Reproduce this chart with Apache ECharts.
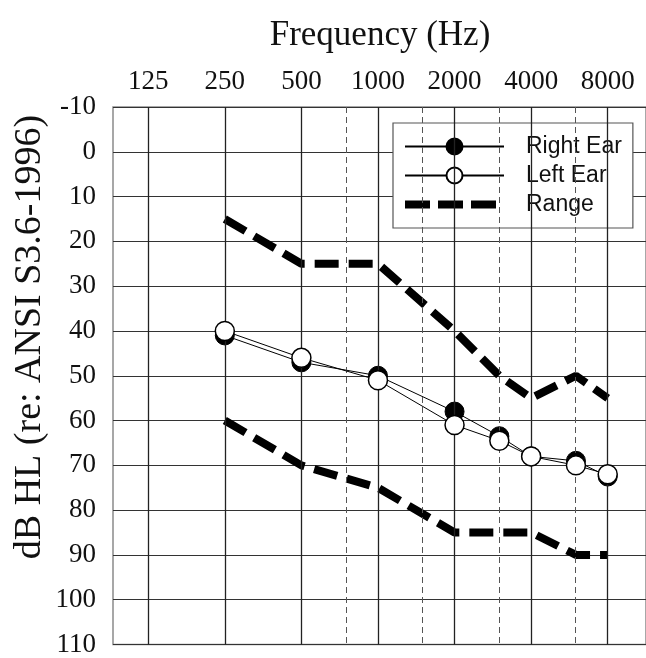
<!DOCTYPE html>
<html>
<head>
<meta charset="utf-8">
<script src="https://cdn.jsdelivr.net/npm/echarts@6/dist/echarts.min.js"></script>
<style>
  html, body { margin: 0; padding: 0; background: #fff; }
  #chart { width: 646px; height: 658px; }
</style>
</head>
<body>
<div id="chart"></div>
<script>
// frequencies (Hz) of the audiogram columns
var octaveFreqs = [125, 250, 500, 1000, 2000, 4000, 8000];
var midFreqs = [750, 1500, 3000, 6000];

// hearing thresholds, dB HL
var earFreqs = [250, 500, 1000, 2000, 3000, 4000, 6000, 8000];
var rightEar = [41, 47, 50, 58, 63.5, 68, 69, 72.5];
var leftEar = [40, 46, 51, 61, 64.5, 68, 70, 72];

// range limits
var rangeFreqs = [250, 500, 1000, 2000, 3000, 4000, 6000, 8000];
var rangeUpper = [15, 25, 25, 40, 50, 55, 50, 55];
var rangeLower = [60, 70, 75, 85, 85, 85, 90, 90];

var dbTicks = [-10, 0, 10, 20, 30, 40, 50, 60, 70, 80, 90, 100, 110];

// position on the axis in octaves above 125 Hz
function oct(f) { return Math.log2(f / 125); }
function pairs(freqs, vals) {
    return freqs.map(function (f, i) { return [oct(f), vals[i]]; });
}

var serif = '"Liberation Serif", "DejaVu Serif", serif';
var sans = '"Liberation Sans", Arial, sans-serif';

var myChart = echarts.init(document.getElementById('chart'), null, { renderer: 'canvas' });

var rangeStyle = { color: '#000', width: 8, type: [24, 10], cap: 'butt' };

myChart.setOption({
    animation: false,
    backgroundColor: '#fff',
    grid: {
        left: 113, top: 107, right: -9, bottom: 11,
        show: true, borderColor: '#8a8a8a', borderWidth: 1.5
    },
    graphic: [
        {
            type: 'text', x: 380, y: 36,
            style: { text: 'Frequency (Hz)', font: '35px ' + serif, fill: '#111',
                     textAlign: 'center', textVerticalAlign: 'middle' }
        },
        {
            type: 'text', x: 30, y: 337, rotation: Math.PI / 2,
            style: { text: 'dB HL (re: ANSI S3.6-1996)', font: '38px ' + serif, fill: '#111',
                     textAlign: 'center', textVerticalAlign: 'middle' }
        }
    ],
    legend: {
        orient: 'vertical',
        left: 393, top: 123,
        padding: [12, 11, 12, 8],
        itemWidth: 99, itemHeight: 20, itemGap: 6,
        backgroundColor: '#fff',
        borderColor: '#555', borderWidth: 1.2,
        data: [
            'Right Ear',
            'Left Ear',
            {
                name: 'Range',
                itemStyle: { color: 'rgba(0,0,0,0)', borderColor: 'rgba(0,0,0,0)', borderWidth: 0 },
                lineStyle: { color: '#000', width: 8, type: [25, 8], cap: 'butt' }
            }
        ],
        textStyle: { fontFamily: sans, fontSize: 23, color: '#111', padding: [0, 0, 0, 17] }
    },
    xAxis: {
        type: 'value',
        position: 'top',
        min: -0.46, max: 6.5,
        axisLine: { show: false },
        axisTick: { show: false },
        splitLine: { show: false },
        axisLabel: {
            customValues: octaveFreqs.map(oct),
            formatter: function (v) { return String(Math.round(125 * Math.pow(2, v))); },
            fontFamily: serif, fontSize: 27, color: '#111', margin: 12
        }
    },
    yAxis: {
        type: 'value',
        inverse: true,
        min: -10, max: 110, interval: 10,
        axisLine: { show: false },
        axisTick: { show: false },
        axisLabel: {
            fontFamily: serif, fontSize: 27, color: '#111', margin: 17,
            formatter: function (v) { return dbTicks.indexOf(v) >= 0 ? String(v) : ''; }
        },
        splitLine: { lineStyle: { color: '#333', width: 1.2 } }
    },
    series: [
        {
            // vertical grid lines
            name: 'grid', type: 'line', data: [], z: 1, silent: true,
            markLine: {
                silent: true, symbol: 'none', animation: false,
                label: { show: false },
                data: octaveFreqs.map(function (f) {
                    return { xAxis: oct(f), lineStyle: { color: '#222', width: 1.3, type: 'solid' } };
                }).concat(midFreqs.map(function (f) {
                    return { xAxis: oct(f), lineStyle: { color: '#555', width: 1, type: [6, 4] } };
                }))
            }
        },
        {
            name: 'Range', type: 'line', symbol: 'none', z: 3,
            data: pairs(rangeFreqs, rangeUpper),
            lineStyle: rangeStyle, itemStyle: { color: '#000' }
        },
        {
            name: 'Range', type: 'line', symbol: 'none', z: 3,
            data: pairs(rangeFreqs, rangeLower),
            lineStyle: rangeStyle, itemStyle: { color: '#000' }
        },
        {
            name: 'Right Ear', type: 'line', symbol: 'circle', symbolSize: 19, z: 4,
            data: pairs(earFreqs, rightEar),
            lineStyle: { color: '#000', width: 1 },
            itemStyle: { color: '#000', borderColor: '#000', borderWidth: 1 }
        },
        {
            name: 'Left Ear', type: 'line', symbol: 'circle', symbolSize: 19, z: 5,
            data: pairs(earFreqs, leftEar),
            lineStyle: { color: '#000', width: 1 },
            itemStyle: { color: '#fff', borderColor: '#000', borderWidth: 1.5 }
        }
    ]
});
</script>
</body>
</html>
